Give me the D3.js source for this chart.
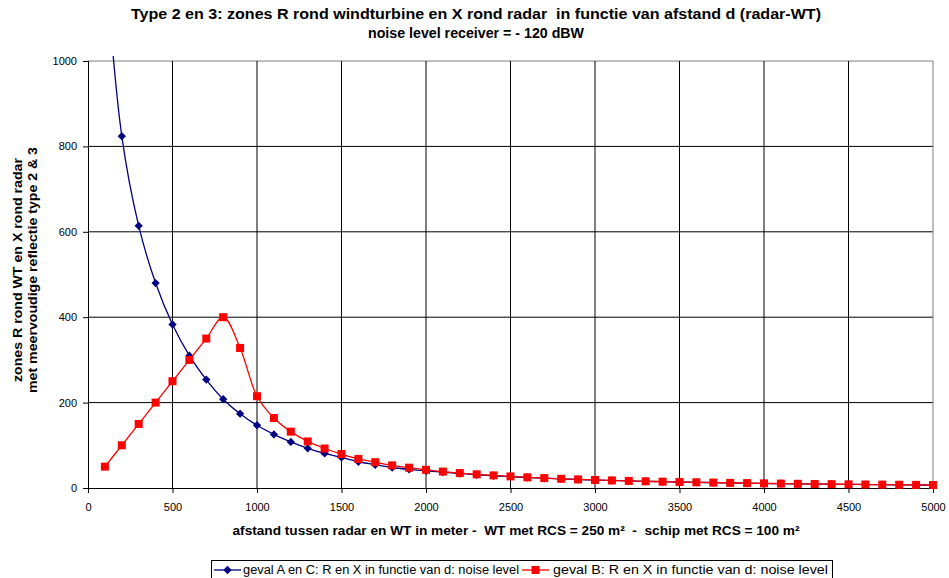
<!DOCTYPE html>
<html>
<head>
<meta charset="utf-8">
<script src="https://cdn.jsdelivr.net/npm/d3@7"></script>
<style>
  html, body { margin: 0; padding: 0; background: #fff; }
  svg { display: block; font-family: "Liberation Sans", Arial, sans-serif; }
  text { white-space: pre; }
</style>
</head>
<body>
<svg id="chart" width="949" height="578"></svg>
<script>
// ---- data ----
const distances = [100,200,300,400,500,600,700,800,900,1000,1100,1200,1300,1400,1500,1600,1700,1800,1900,2000,
  2100,2200,2300,2400,2500,2600,2700,2800,2900,3000,3100,3200,3300,3400,3500,3600,3700,3800,3900,4000,
  4100,4200,4300,4400,4500,4600,4700,4800,4900,5000];
const seriesA = [1250,824,614,480,383,310,254,208,174,147,125.5,108,93,81,71.5,61.5,54.5,48,43.5,40,
  37,34,31,28.7,26.5,24.6,22.9,21.3,19.9,18.6,17.5,16.5,15.6,14.7,13.9,13.2,12.5,11.9,11.3,10.7,
  10.2,9.7,9.3,8.9,8.5,8.1,7.8,7.5,7.2,6.9];
const seriesB = [50,100,150,200,250,300,350,400,328,215,164,132,109,92.5,79.5,68,60.5,53,47.6,42.5,
  38.5,35,32,29.5,27.2,25,23.2,21.6,20.1,18.8,17.7,16.6,15.7,14.8,14,13.3,12.6,12,11.4,10.8,
  10.3,9.8,9.4,9,8.6,8.2,7.9,7.6,7.3,7];
const seriesNames = ["geval A en C: R en X in functie van d: noise level", "geval B: R en X in functie van d: noise level"];
const xTicks = [0,500,1000,1500,2000,2500,3000,3500,4000,4500,5000];
const yTicks = [0,200,400,600,800,1000];
const titleLines = ["Type 2 en 3: zones R rond windturbine en X rond radar  in functie van afstand d (radar-WT)", "noise level receiver = - 120 dBW"];
const xTitle = "afstand tussen radar en WT in meter -  WT met RCS = 250 m²  -  schip met RCS = 100 m²";
const yTitleLines = ["zones R rond WT en X rond radar", "met meervoudige reflectie type 2 & 3"];

// ---- layout ----
const svg = d3.select("#chart");
const L = 88, R = 933, T = 61, B = 488;
const x = d3.scaleLinear().domain([0, 5000]).range([L, R]);
const y = d3.scaleLinear().domain([0, 1000]).range([B, T]);
const blue = "#000080", red = "#ff0000";

// title
const titleLen = [690, 216];
svg.append("g").selectAll("text").data(titleLines).join("text")
  .attr("x", 476).attr("y", (d, i) => 19 + i * 19)
  .attr("text-anchor", "middle").attr("font-size", 14).attr("font-weight", "bold")
  .attr("textLength", (d, i) => titleLen[i]).attr("lengthAdjust", "spacingAndGlyphs").text(d => d);

// gridlines
svg.append("g").selectAll("line").data(yTicks.filter(v => v > 0)).join("line")
  .attr("x1", L).attr("x2", R).attr("y1", d => y(d)).attr("y2", d => y(d))
  .attr("stroke", d => d === 1000 ? "#808080" : "#000").attr("stroke-width", 1);
svg.append("g").selectAll("line").data(xTicks.filter(v => v > 0)).join("line")
  .attr("y1", T).attr("y2", B).attr("x1", d => x(d)).attr("x2", d => x(d))
  .attr("stroke", d => d === 5000 ? "#808080" : "#000").attr("stroke-width", 1);

// axes
const xAxis = svg.append("g").attr("transform", `translate(0,${B})`)
  .call(d3.axisBottom(x).tickValues(xTicks).tickSize(5).tickPadding(10).tickFormat(d3.format("d")));
const yAxis = svg.append("g").attr("transform", `translate(${L},0)`)
  .call(d3.axisLeft(y).tickValues(yTicks).tickSize(5).tickPadding(6).tickFormat(d3.format("d")));
[xAxis, yAxis].forEach(a => {
  a.select(".domain").attr("stroke", "#000");
  a.selectAll(".tick line").attr("stroke", "#000");
  a.selectAll(".tick text").attr("font-size", 11).attr("fill", "#000")
    .attr("font-family", "'Liberation Sans', Arial, sans-serif");
});
xAxis.select(".domain").attr("d", `M${L},0.5H${R}`);
yAxis.select(".domain").attr("d", `M0.5,${B}V${T}`);

// axis titles
svg.append("text").attr("x", 516).attr("y", 535).attr("text-anchor", "middle")
  .attr("font-size", 12).attr("font-weight", "bold")
  .attr("textLength", 567).attr("lengthAdjust", "spacingAndGlyphs").text(xTitle);
const yTitleLen = [224, 246];
svg.append("g").selectAll("text").data(yTitleLines).join("text")
  .attr("transform", (d, i) => `translate(${22 + i * 15},${270}) rotate(-90)`)
  .attr("text-anchor", "middle").attr("font-size", 13).attr("font-weight", "bold")
  .attr("textLength", (d, i) => yTitleLen[i]).attr("lengthAdjust", "spacingAndGlyphs").text(d => d);

// clip
svg.append("clipPath").attr("id", "clip").append("rect")
  .attr("x", L - 6).attr("y", T - 5).attr("width", R - L + 12).attr("height", B - T + 11);

const line = d3.line().x(d => x(d[0])).y(d => y(d[1])).curve(d3.curveCatmullRom.alpha(0.5));
const dataA = distances.map((d, i) => [d, seriesA[i]]);
const dataB = distances.map((d, i) => [d, seriesB[i]]);

const plot = svg.append("g").attr("clip-path", "url(#clip)");
plot.append("path").datum(dataA).attr("d", line).attr("fill", "none").attr("stroke", blue).attr("stroke-width", 1.3);
plot.append("g").selectAll("path").data(dataA.filter(d => d[1] <= 1000)).join("path")
  .attr("d", d3.symbol(d3.symbolDiamond2, 44)())
  .attr("transform", d => `translate(${x(d[0])},${y(d[1])})`).attr("fill", blue);
plot.append("path").datum(dataB).attr("d", line).attr("fill", "none").attr("stroke", red).attr("stroke-width", 1.3);
plot.append("g").selectAll("rect").data(dataB).join("rect")
  .attr("x", d => x(d[0]) - 4).attr("y", d => y(d[1]) - 4).attr("width", 8).attr("height", 8).attr("fill", red);

// legend
const lg = svg.append("g");
lg.append("rect").attr("x", 211.5).attr("y", 560.5).attr("width", 621).attr("height", 20)
  .attr("fill", "#fff").attr("stroke", "#000").attr("stroke-width", 1);
const items = [{c: blue, sym: "d", x: 214, tx: 243, len: 276}, {c: red, sym: "s", x: 522, tx: 553, len: 275}];
items.forEach((it, i) => {
  const cy = 570;
  lg.append("line").attr("x1", it.x).attr("x2", it.x + 27).attr("y1", cy).attr("y2", cy).attr("stroke", it.c).attr("stroke-width", 1.3);
  if (it.sym === "d") {
    lg.append("path").attr("d", d3.symbol(d3.symbolDiamond2, 44)()).attr("transform", `translate(${it.x + 13.5},${cy})`).attr("fill", it.c);
  } else {
    lg.append("rect").attr("x", it.x + 9.5).attr("y", cy - 4).attr("width", 8).attr("height", 8).attr("fill", it.c);
  }
  lg.append("text").attr("x", it.tx).attr("y", cy + 4).attr("font-size", 12)
    .attr("textLength", it.len).attr("lengthAdjust", "spacingAndGlyphs").text(seriesNames[i]);
});
</script>
</body>
</html>
